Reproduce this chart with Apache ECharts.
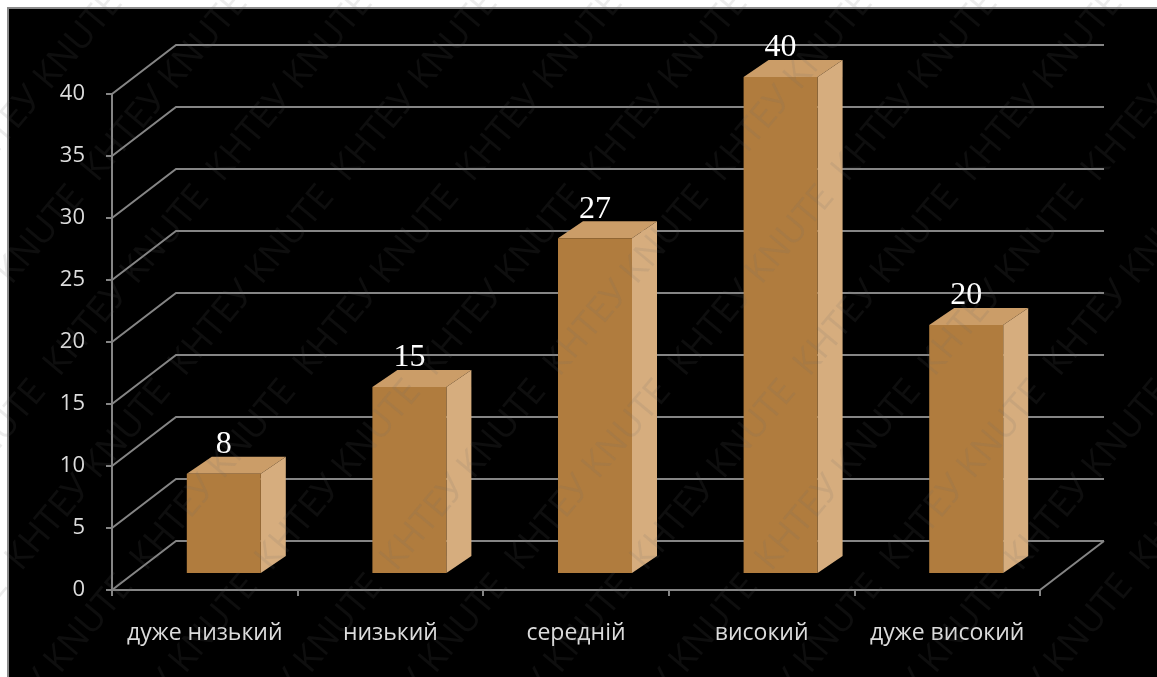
<!DOCTYPE html>
<html>
<head>
<meta charset="utf-8">
<script src="https://cdn.jsdelivr.net/npm/echarts@6/dist/echarts.min.js"></script>
<style>
  html, body { margin: 0; padding: 0; background: #ffffff; }
  #chart { width: 1157px; height: 677px; }
</style>
</head>
<body>
<div id="chart"></div>
<script>
// Categories and counts
const categories = ['дуже низький', 'низький', 'середній', 'високий', 'дуже високий'];
const counts = [8, 15, 27, 40, 20];
const yTicks = [0, 5, 10, 15, 20, 25, 30, 35, 40];
const watermarkText = 'КНТЕУ KNUTE';

// Pseudo-3D layout of the plot box
const WALL_DX = 64, WALL_DY = 49;      // offset from front plane to back wall
const BAR_SHIFT_X = 19, BAR_SHIFT_Y = 17; // bar front face inside the floor depth
const BAR_W = 74, BAR_DX = 25, BAR_DY = 17;

const AXIS_GREY = '#858585';
const LABEL_GREY = '#dcdcdc';

const chart = echarts.init(document.getElementById('chart'), null, { renderer: 'canvas' });

function wallItem(params, api) {
  const cs = params.coordSys;
  const yF = api.coord([0, api.value(1)])[1];
  const xL = cs.x, xR = cs.x + cs.width;
  const children = [
    { type: 'polyline', shape: { points: [[xL, yF], [xL + WALL_DX, yF - WALL_DY], [xR + WALL_DX, yF - WALL_DY]] },
      style: { stroke: AXIS_GREY, lineWidth: 2, fill: null } }
  ];
  if (api.value(1) === 0) {
    children.push({ type: 'line', shape: { x1: xR, y1: yF, x2: xR + WALL_DX, y2: yF - WALL_DY },
      style: { stroke: AXIS_GREY, lineWidth: 2 } });
  }
  return { type: 'group', children };
}

function barItem(params, api) {
  const idx = api.value(0), v = api.value(1);
  const base = api.coord([idx, 0]);
  const top = api.coord([idx, v]);
  const x0 = base[0] + BAR_SHIFT_X - BAR_W / 2;
  const x1 = x0 + BAR_W;
  const yb = base[1] - BAR_SHIFT_Y;
  const yt = top[1] - BAR_SHIFT_Y;
  return {
    type: 'group',
    children: [
      { type: 'polygon', shape: { points: [[x1, yb], [x1 + BAR_DX, yb - BAR_DY], [x1 + BAR_DX, yt - BAR_DY], [x1, yt]] },
        style: { fill: '#d6ad7e' } },
      { type: 'polygon', shape: { points: [[x0, yt], [x0 + BAR_DX, yt - BAR_DY], [x1 + BAR_DX, yt - BAR_DY], [x1, yt]] },
        style: { fill: '#cb9d68' } },
      { type: 'rect', shape: { x: x0, y: yt, width: BAR_W, height: yb - yt },
        style: { fill: '#b07c3e' } },
      { type: 'text', x: x0 + BAR_W / 2, y: yt - BAR_DY - 12,
        style: { text: String(v), fill: '#ffffff', font: '32px "Liberation Serif", "Times New Roman", serif',
                 align: 'center', verticalAlign: 'middle' } }
    ]
  };
}

// Diagonal watermark lines
const wm = [];
const line = Array(8).fill(watermarkText).join('  ');
for (let x = -900; x <= 1400; x += 125) {
  wm.push({
    type: 'text', x: x, y: 760, rotation: 50 * Math.PI / 180, silent: true, z: 200,
    style: { text: line, fill: 'rgba(110,110,110,0.13)', font: '36px "Open Sans", sans-serif',
             align: 'left', verticalAlign: 'middle' }
  });
}

chart.setOption({
  backgroundColor: '#000000',
  animation: false,
  grid: { left: 112, top: 94, width: 928, height: 496, containLabel: false },
  xAxis: {
    type: 'category',
    data: categories,
    boundaryGap: true,
    axisLine: { show: true, lineStyle: { color: AXIS_GREY, width: 2 } },
    axisTick: { show: true, interval: 0, length: 6, lineStyle: { color: AXIS_GREY, width: 2 } },
    axisLabel: { interval: 0, hideOverlap: false, color: LABEL_GREY, fontSize: 23,
                 fontFamily: '"Open Sans", sans-serif', margin: 32 },
    splitLine: { show: false }
  },
  yAxis: {
    type: 'value',
    min: 0, max: 40, interval: 5,
    axisLine: { show: true, lineStyle: { color: AXIS_GREY, width: 2 } },
    axisTick: { show: true, length: 6, lineStyle: { color: AXIS_GREY, width: 2 } },
    axisLabel: { color: LABEL_GREY, fontSize: 22, fontFamily: '"Open Sans", sans-serif', margin: 27 },
    splitLine: { show: false }
  },
  graphic: [
    { type: 'rect', shape: { x: 0, y: 0, width: 1157, height: 8 }, style: { fill: '#ffffff' }, z: 150, silent: true },
    { type: 'rect', shape: { x: 0, y: 0, width: 8, height: 677 }, style: { fill: '#ffffff' }, z: 150, silent: true },
    { type: 'polyline', shape: { points: [[8, 677], [8, 8], [1157, 8]] }, style: { stroke: '#8a8a8a', lineWidth: 2, fill: null }, z: 151, silent: true }
  ].concat(wm),
  series: [
    {
      type: 'custom',
      renderItem: wallItem,
      data: yTicks.map(t => [0, t]),
      z: 1,
      silent: true
    },
    {
      type: 'custom',
      renderItem: barItem,
      data: counts.map((c, i) => [i, c]),
      z: 5,
      silent: true
    }
  ]
});
</script>
</body>
</html>
